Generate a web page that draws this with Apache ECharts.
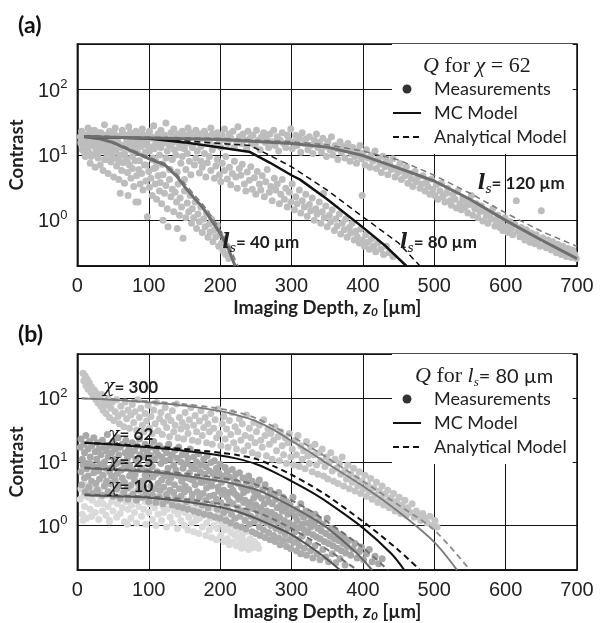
<!DOCTYPE html>
<html><head><meta charset="utf-8">
<script src="https://cdn.jsdelivr.net/npm/echarts@6/dist/echarts.min.js"></script>
<style>html,body{margin:0;padding:0;background:#fff}#c{width:603px;height:623px}</style>
</head><body><div id="c"></div>
<script>
// ---------- Panel (a): Q for chi = 62 ----------
const a40MC = [[10,19],[30,17.8],[50,15.5],[71,12.2],[100,8.8],[123,7.0],[140,4.6],[150,3.3],[162,2.3],[175,1.6],[188,1.0],[200,0.63],[211,0.38],[221,0.2]];
const a40AN = [[10,19.5],[30,18],[50,16],[71,12.8],[100,9.3],[123,7.4],[140,5.0],[150,3.7],[162,2.6],[175,1.8],[188,1.15],[200,0.72],[212,0.42],[225,0.2]];
const a80MC = [[10,19],[50,18.6],[100,17.9],[150,15.6],[200,13],[242,11.1],[270,7.6],[300,4.9],[312,4.2],[350,2.1],[400,0.78],[430,0.42],[461,0.2]];
const a80AN = [[10,19.5],[50,19],[100,18.3],[150,16.5],[200,15],[242,14],[270,9.8],[300,6.6],[350,2.9],[400,1.13],[450,0.45],[480,0.2]];
const a120MC = [[10,19],[100,18.2],[200,17.2],[300,15],[350,13.2],[400,9.8],[450,6.3],[500,4.0],[550,2.1],[600,1.0],[650,0.5],[700,0.26]];
const a120AN = [[10,19.5],[100,18.8],[200,18],[300,16],[350,14.3],[400,11.5],[450,8.4],[500,4.9],[550,2.6],[600,1.3],[650,0.68],[700,0.4]];

const a40pts = [[5,16],[7,12],[9,20],[11,9.5],[12,15],[14,18],[16,11],[18,7.5],[20,14],[21,17.5],[23,10],[25,6.5],[27,13],[29,9],[30,16],[32,7],[34,11.5],[36,5.8],[38,13.5],[40,8.5],[41,10.5],[43,5.2],[45,12],[47,7.8],[49,9.5],[51,4.6],[53,11],[55,6.8],[56,8.6],[58,4.2],[60,10],[62,5.8],[64,7.6],[66,3.7],[68,9],[70,5.4],[71,2.4],[73,7],[75,4.4],[77,6.2],[79,3.3],[81,8.2],[83,4.8],[85,1.9],[86,6],[88,3.6],[90,5.2],[92,2.9],[94,7],[96,4],[98,1.13],[100,5.6],[101,3.2],[103,4.4],[105,2.4],[107,6.2],[109,3.6],[111,2.1],[113,4.8],[115,2.8],[116,3.8],[118,1.8],[120,5],[122,2.6],[124,3.4],[126,1.5],[127,0.8],[129,4.2],[131,2.3],[133,3],[135,1.35],[137,2.7],[139,1.9],[141,3.6],[143,1.2],[144,2.2],[146,1.6],[148,0.53],[150,2.8],[152,1.1],[154,1.85],[156,1.35],[158,2.4],[160,0.9],[161,1.5],[163,1.1],[165,1.9],[167,0.75],[169,1.25],[171,0.95],[173,1.6],[175,0.65],[177,1.05],[179,0.8],[181,1.3],[183,0.55],[185,0.88],[186,0.66],[188,1.05],[190,0.47],[192,0.72],[194,0.56],[196,0.85],[198,0.4],[200,0.6],[202,0.45],[204,0.34],[206,0.52],[208,0.3],[210,0.4],[212,0.26],[82,1.9],[60,2.6],[120,1.0],[140,0.75],[106,9],[95,11],[130,6],[150,4.2],[78,13],[110,8]];
const a80pts = [[5,15],[7,21],[10,11],[12,17],[14,13],[17,24],[19,9.5],[21,15],[24,19],[26,12],[28,10],[31,16.5],[33,22],[35,13],[38,8.5],[40,18],[42,14],[45,11],[47,20],[49,9],[52,15.5],[54,12],[56,17],[59,8],[61,13],[63,21],[66,10.5],[68,14.5],[70,7.8],[73,18],[75,12],[77,9.5],[80,15],[82,20],[84,11],[87,8.2],[89,13.5],[91,17],[94,10],[96,7],[98,14],[101,11.5],[103,18],[105,8.5],[108,12.5],[110,6.5],[112,15],[115,10],[117,13],[119,7.2],[122,16],[124,9],[126,11.5],[129,6],[131,14],[133,8.5],[136,12],[138,10],[140,5.5],[143,15],[145,7.5],[147,9.5],[150,12.5],[152,6],[154,10.5],[157,8],[159,5],[161,13],[164,7],[166,9],[168,11.5],[171,5.3],[173,8],[175,6.5],[178,10.5],[180,4.6],[182,7.6],[185,9.5],[187,5.8],[189,12],[192,4.4],[194,6.8],[196,8.5],[199,5],[201,3.9],[203,7.5],[206,5.8],[208,9.5],[210,4.3],[213,6.5],[215,3.5],[217,5.2],[220,8],[222,4.6],[224,3.1],[227,6.2],[229,4.9],[231,7.2],[234,3.6],[236,2.8],[238,5.5],[241,4.1],[243,6.6],[245,3.0],[248,4.5],[250,2.5],[252,5.6],[255,3.6],[257,2.9],[259,4.8],[262,2.3],[264,3.9],[266,6],[269,2.7],[271,3.3],[273,2.0],[276,4.4],[278,2.9],[280,3.6],[283,1.8],[285,2.5],[287,4.2],[290,2.1],[292,3.1],[294,1.6],[297,2.7],[299,1.9],[301,3.6],[304,1.45],[306,2.3],[308,1.8],[311,2.9],[313,1.3],[315,2.0],[318,1.6],[320,2.5],[322,1.15],[325,1.75],[327,1.4],[329,2.2],[332,1.0],[334,1.5],[336,1.25],[339,1.9],[341,0.9],[343,1.35],[346,1.1],[348,1.65],[350,0.8],[353,1.2],[355,0.95],[357,1.45],[360,0.7],[362,1.05],[364,0.82],[367,1.25],[369,0.62],[371,0.9],[374,0.72],[376,1.05],[378,0.55],[381,0.78],[383,0.64],[385,0.9],[388,0.5],[390,0.68],[392,0.56],[395,0.45],[397,0.74],[399,0.5],[402,0.4],[404,0.6],[407,0.46],[409,0.36],[412,0.52],[415,0.4],[418,0.33],[421,0.45],[425,0.36],[429,0.3],[433,0.4],[437,0.32],[442,0.28],[399,2.4],[345,2.6]];
const a120pts = [[4,19],[6,23],[9,16],[11,20],[15,26],[17,14],[18,21],[22,18],[24,24],[27,15.5],[29,19],[30,22],[33,13.5],[36,17],[38,29],[39,20],[42,16],[45,23],[46,18],[48,13],[52,21],[53,26],[55,17],[58,15],[60,19.5],[63,24],[64,14],[67,20],[69,17],[72,27],[74,22],[75,15],[78,19],[81,13],[82,23],[85,18],[88,16],[90,21],[91,25],[94,14.5],[97,20],[98,17],[101,23],[104,19],[106,13.5],[107,28],[110,16],[113,21],[115,18],[117,24],[120,15],[122,20],[124,31],[126,17],[129,14],[131,22],[134,19],[135,25],[138,16],[141,21],[143,13],[144,18],[147,23],[150,20],[152,15],[155,26],[157,18],[158,22],[161,14],[164,19],[166,24],[168,16.5],[171,21],[173,13.5],[175,18],[178,23],[180,20],[182,15],[185,17],[187,26],[189,21],[192,14],[194,18.5],[196,22],[199,16],[201,13],[203,20],[206,25],[208,17],[211,15],[213,21],[215,18],[218,23],[220,13],[223,16],[225,27],[227,19],[230,15],[232,21],[234,17],[237,12.5],[239,23],[242,18],[244,15],[246,20],[249,14],[251,24],[254,17],[256,12],[258,19],[261,22],[263,15.5],[265,18],[268,13],[270,21],[273,16],[275,24],[277,14],[280,19],[282,11.5],[284,17],[287,22],[289,15],[292,13],[294,20],[296,17],[299,25],[301,12.5],[303,16],[306,20],[308,14],[311,18],[313,11],[315,22],[318,15],[320,17.5],[323,12],[325,19],[327,14],[330,10.5],[332,17],[335,21],[337,13],[339,15.5],[342,11],[344,18],[347,13.5],[349,9.5],[351,16],[354,12],[356,19],[358,10],[361,14],[363,12.5],[365,8.5],[368,16],[370,11],[372,13.5],[375,9],[377,12],[379,15],[382,8],[384,10.5],[386,13],[389,9.5],[391,7.5],[393,11.5],[396,14],[398,8.8],[400,10.5],[403,7],[405,12],[407,9],[410,6.5],[412,10],[414,8],[417,11.5],[419,6.2],[421,8.6],[424,7.3],[426,5.4],[428,9.6],[431,6.6],[433,8],[435,5],[438,7],[440,6],[442,8.8],[445,4.6],[447,6.3],[449,5.4],[452,7.4],[454,4.2],[456,5.8],[459,4.8],[461,6.6],[463,3.7],[466,5.2],[468,4.3],[470,3.3],[473,5.6],[475,3.9],[477,4.6],[480,3.1],[482,3.6],[484,4.8],[487,2.8],[489,3.9],[491,3.3],[494,2.5],[496,4.3],[498,3.0],[501,2.4],[503,3.5],[505,2.1],[508,2.8],[510,3.7],[512,2.3],[515,1.9],[517,2.6],[519,3.1],[522,2.0],[524,1.7],[526,2.5],[529,2.1],[531,1.55],[533,2.8],[536,1.8],[538,1.45],[540,2.2],[543,1.6],[545,1.95],[547,1.3],[550,1.75],[552,2.4],[554,1.2],[557,1.5],[559,1.8],[561,1.1],[564,1.35],[566,1.65],[568,0.98],[571,1.4],[573,1.15],[575,0.9],[578,1.25],[580,1.05],[582,1.5],[585,0.82],[587,1.0],[589,1.2],[592,0.78],[594,0.92],[596,0.7],[599,1.1],[601,0.8],[603,0.65],[606,0.95],[608,0.75],[610,0.6],[613,0.86],[615,2.0],[617,0.68],[620,0.56],[622,0.78],[624,0.62],[627,0.5],[629,0.72],[631,0.58],[634,0.46],[636,0.64],[638,0.52],[641,0.44],[643,0.6],[645,0.48],[648,0.4],[650,1.4],[652,0.54],[655,0.44],[657,0.38],[659,0.5],[662,0.41],[664,0.35],[666,0.47],[669,0.38],[671,0.32],[673,0.43],[676,0.35],[678,0.3],[680,0.4],[683,0.33],[685,0.28],[687,0.37],[690,0.31],[692,0.27],[694,0.35],[697,0.3],[699,0.26]];

// ---------- Panel (b): Q for ls = 80 um ----------
const b300MC = [[6,100],[50,95],[100,87],[150,77],[200,63],[225,54],[250,44],[275,32],[300,21.5],[325,14.5],[350,9.5],[400,4.2],[450,1.65],[500,0.55],[532,0.2]];
const b300AN = [[6,100],[50,97],[100,90],[150,81],[200,69],[225,60],[250,49],[275,36],[300,25.5],[325,17.5],[350,11.7],[400,5.0],[450,2.1],[500,0.85],[550,0.2]];
const b62MC = [[10,20],[50,18.8],[100,17],[150,15],[200,12.7],[225,11.2],[250,9.3],[275,7.0],[300,5.0],[325,3.5],[350,2.34],[400,0.92],[440,0.36],[458,0.2]];
const b62AN = [[10,20],[50,19.2],[100,17.8],[150,16],[200,14],[225,12.8],[250,11.2],[275,8.6],[300,6.3],[325,4.4],[350,2.96],[400,1.16],[450,0.41],[480,0.2]];
const b25MC = [[10,8],[50,7.6],[100,7.0],[150,6.1],[200,5.0],[225,4.4],[250,3.7],[275,2.8],[300,2.0],[325,1.4],[350,0.92],[390,0.38],[413,0.2]];
const b25AN = [[10,8.2],[50,7.8],[100,7.3],[150,6.6],[200,5.6],[225,5.1],[250,4.4],[275,3.4],[300,2.5],[325,1.75],[350,1.15],[400,0.45],[435,0.2]];
const b10MC = [[10,3.0],[50,2.9],[100,2.75],[150,2.4],[200,1.95],[225,1.65],[250,1.3],[275,0.98],[300,0.72],[340,0.36],[368,0.2]];
const b10AN = [[10,3.1],[50,3.0],[100,2.85],[150,2.6],[200,2.2],[225,1.95],[250,1.65],[275,1.25],[300,0.9],[350,0.42],[392,0.2]];

const b300pts = [[8,250],[9,190],[11,225],[12,160],[14,200],[15,140],[17,175],[19,125],[20,150],[22,108],[24,135],[26,95],[27,120],[29,85],[31,100],[33,75],[34,115],[36,65],[38,90],[40,58],[41,78],[43,100],[45,50],[47,70],[49,88],[51,45],[53,62],[55,95],[57,52],[59,40],[61,75],[63,58],[65,36],[67,88],[69,48],[71,66],[73,34],[75,55],[77,80],[79,42],[81,62],[83,32],[85,95],[87,50],[89,70],[91,38],[93,30],[95,58],[97,44],[99,78],[101,34],[103,52],[105,28],[107,66],[109,40],[111,86],[113,31],[115,48],[117,60],[119,27],[121,42],[123,72],[125,35],[127,52],[129,25],[131,45],[133,64],[135,30],[137,38],[139,82],[141,24],[143,50],[145,33],[147,42],[149,23],[151,60],[153,36],[155,28],[157,46],[159,72],[161,22],[163,38],[165,54],[167,30],[169,21],[171,44],[173,64],[175,26],[177,35],[179,50],[181,20],[183,40],[185,30],[187,58],[189,19],[191,34],[193,46],[195,24],[197,68],[199,28],[201,18],[203,40],[205,52],[207,23],[209,33],[211,17],[213,45],[215,27],[217,60],[219,20],[221,36],[223,16],[225,30],[227,48],[229,22],[231,40],[233,15],[235,26],[237,55],[239,18],[241,34],[243,24],[245,14],[247,42],[249,20],[251,30],[253,13],[255,38],[257,22],[259,17],[261,46],[263,26],[265,12.5],[267,33],[269,19],[271,28],[273,11],[275,22],[277,36],[279,15],[281,25],[283,10.5],[285,30],[287,18],[289,13],[291,24],[293,9.5],[295,20],[297,28],[299,12],[301,16],[303,9],[305,22],[307,13],[309,26],[311,8.5],[313,18],[315,11],[317,15],[319,7.8],[321,21],[323,12.5],[325,9.5],[327,17],[329,7],[331,13],[333,19],[335,9],[337,6.4],[339,14],[341,10.5],[343,16],[345,6],[347,8.5],[349,12],[351,5.4],[353,10],[355,14],[357,7.2],[359,5],[361,11],[363,8],[365,4.6],[367,9.5],[369,6.4],[371,12],[373,4.2],[375,7.4],[377,5.4],[379,9],[381,3.8],[383,6.4],[385,4.8],[387,8],[389,3.5],[391,5.6],[393,4.2],[395,7],[397,3.2],[399,5],[401,3.8],[403,6.2],[405,2.9],[407,4.4],[409,3.4],[411,5.5],[413,2.6],[415,3.9],[417,3.0],[419,4.8],[421,2.3],[423,3.5],[425,2.7],[427,4.2],[429,2.1],[431,3.1],[433,2.4],[435,3.6],[437,1.9],[439,2.7],[441,2.2],[443,3.2],[445,1.7],[447,2.4],[449,1.95],[451,2.8],[453,1.55],[455,2.1],[457,1.75],[459,2.5],[461,1.45],[463,1.9],[466,1.6],[469,2.2],[472,1.35],[475,1.7],[478,1.45],[481,1.2],[484,1.55],[487,1.3],[490,1.1],[494,1.4],[497,1.0],[501,1.2],[504,0.95]];
const b62pts = [[4,17],[5,23],[7,11],[9,19],[10,14],[12,26],[13,9.5],[15,16],[17,21],[18,12],[20,18],[22,8.5],[23,24],[25,14.5],[27,11],[28,20],[30,16],[32,9],[33,13],[35,22],[37,17],[38,10],[40,15],[42,27],[43,12],[45,18],[47,8],[48,14],[50,21],[52,11],[53,16],[55,9.5],[57,24],[58,13],[60,17],[62,10],[63,19],[65,8],[67,14],[68,22],[70,11.5],[72,16],[73,9],[75,13],[77,20],[78,7.5],[80,15],[82,11],[83,18],[85,9.5],[87,23],[88,13],[90,8],[92,16],[93,12],[95,19],[97,7.2],[98,14],[100,10],[102,17],[103,12.5],[105,8.5],[107,21],[108,11],[110,15],[112,7],[113,13],[115,18],[117,9.5],[118,12],[120,6.6],[122,16],[123,10.5],[125,14],[127,8],[128,19],[130,11],[132,6.2],[133,13],[135,9],[137,15.5],[138,7.5],[140,11.5],[142,17],[143,6],[145,10],[147,13],[148,8],[150,5.6],[152,14],[153,9.5],[155,11.5],[157,6.8],[158,16],[160,8.5],[162,5.2],[163,12],[165,7.8],[167,10],[168,5.8],[170,13.5],[172,7],[173,9],[175,4.8],[177,11],[178,6.4],[180,8.4],[182,12.5],[183,5],[185,7.2],[187,9.8],[188,4.4],[190,6.6],[192,10.5],[193,5.4],[195,8],[197,4],[198,6.8],[200,9.2],[202,4.8],[203,6],[205,3.6],[207,8.2],[208,5.4],[210,7],[212,3.3],[213,5.8],[215,4.3],[217,7.6],[218,3.6],[220,5.2],[222,6.4],[223,3],[225,4.6],[227,6.8],[228,2.8],[230,4],[232,5.6],[233,3.3],[235,2.5],[237,4.8],[238,3.6],[240,6],[242,2.3],[243,3.9],[245,5],[247,2.7],[248,3.4],[250,2.1],[252,4.4],[253,3],[255,5.2],[257,1.9],[258,2.7],[260,3.7],[262,2.2],[263,4.4],[265,1.7],[267,2.9],[268,2.4],[270,3.6],[272,1.6],[273,2.2],[275,3.1],[277,1.45],[278,2.6],[280,1.9],[282,3.3],[283,1.35],[285,2.1],[287,1.7],[288,2.8],[290,1.2],[292,1.9],[293,2.4],[295,1.5],[297,1.1],[298,2.1],[300,1.65],[302,2.8],[303,1.0],[305,1.4],[307,1.8],[308,1.2],[310,0.92],[312,1.55],[313,2.2],[315,1.05],[317,1.35],[318,0.85],[320,1.7],[322,1.1],[323,0.78],[325,1.45],[327,0.95],[328,1.2],[330,0.72],[332,1.05],[333,1.5],[335,0.66],[337,0.9],[338,1.2],[340,0.62],[342,0.82],[344,1.05],[346,0.56],[348,0.75],[350,1.3],[352,0.52],[354,0.68],[356,0.9],[358,0.48],[360,0.62],[362,0.8],[364,0.44],[366,0.58],[368,0.72],[370,0.4],[372,0.52],[374,0.65],[376,0.37],[378,0.47],[380,0.58],[383,0.34],[386,0.43],[389,0.52],[392,0.31],[395,0.39],[398,0.46],[401,0.29],[405,0.36],[409,0.42],[413,0.27],[417,0.33],[422,0.25],[427,0.3]];
const b25pts = [[5,7],[6,4.4],[8,9],[10,5.6],[11,3.4],[13,7.8],[15,6],[16,4],[18,9.5],[20,5],[21,3.2],[23,6.8],[25,8.4],[26,4.6],[28,3.6],[30,7.2],[31,5.4],[33,9.2],[35,3],[36,6.2],[38,4.2],[40,8],[41,5],[43,3.4],[45,7],[46,4.6],[48,6],[50,2.9],[51,8.8],[53,5.2],[55,3.8],[56,6.6],[58,4.4],[60,2.7],[61,7.4],[63,5.6],[65,3.3],[66,4.8],[68,8.2],[70,3.9],[71,2.6],[73,6],[75,4.3],[76,7],[78,3.1],[80,5.2],[81,6.4],[83,2.5],[85,4.6],[86,3.6],[88,7.6],[90,5],[91,2.8],[93,4],[95,6.2],[96,3.3],[98,5.4],[100,2.4],[101,7],[103,4.2],[105,3],[106,5.8],[108,3.8],[110,2.3],[111,6.6],[113,4.6],[115,2.8],[116,3.6],[118,5.2],[120,2.2],[121,4],[123,6],[125,3.1],[126,2.5],[128,4.8],[130,3.6],[131,5.6],[133,2.1],[135,3.3],[136,4.4],[138,2.7],[140,6.2],[141,2],[143,3.8],[145,2.9],[146,5],[148,1.9],[150,3.4],[151,4.2],[153,2.4],[155,1.8],[156,3.7],[158,5.4],[160,2.6],[161,3.1],[163,1.7],[165,4.4],[166,2.3],[168,3.4],[170,1.6],[171,2.8],[173,4.8],[175,2.1],[176,3.2],[178,1.5],[180,2.5],[181,3.9],[183,1.9],[185,2.9],[186,1.45],[188,4.2],[190,2.2],[191,3],[193,1.35],[195,2.6],[196,1.8],[198,3.5],[200,1.3],[201,2.3],[203,3.1],[205,1.6],[206,2.0],[208,1.2],[210,2.8],[211,1.75],[213,2.4],[215,1.1],[216,1.5],[218,2.2],[220,3.2],[221,1.3],[223,1.0],[225,1.9],[226,2.6],[228,1.4],[230,0.95],[231,1.7],[233,2.3],[235,1.2],[236,0.88],[238,1.55],[240,2.0],[241,1.05],[243,1.4],[245,0.8],[246,1.85],[248,1.15],[250,0.75],[251,1.3],[253,1.65],[255,0.95],[256,0.7],[258,1.2],[260,1.5],[261,0.85],[263,0.65],[265,1.1],[266,1.35],[268,0.78],[270,0.6],[271,1.0],[273,1.25],[275,0.7],[277,0.56],[278,0.9],[280,1.15],[282,0.64],[284,0.5],[285,0.82],[287,1.0],[289,0.58],[291,0.74],[293,0.47],[295,0.9],[297,0.6],[299,0.43],[301,0.7],[303,0.54],[305,0.8],[307,0.4],[309,0.6],[311,0.48],[313,0.36],[315,0.68],[318,0.44],[321,0.34],[324,0.55],[327,0.4],[330,0.31],[333,0.48],[336,0.36],[340,0.29],[344,0.42],[348,0.32],[352,0.27],[357,0.36],[362,0.26],[368,0.3],[375,0.24]];
const b10pts = [[4,2.6],[5,3.8],[7,1.5],[9,3],[10,2],[12,4.3],[13,1.3],[15,2.8],[17,3.5],[18,1.8],[20,1.4],[21,2.5],[23,4],[25,1.6],[26,3.1],[28,2.2],[30,1.25],[31,3.7],[33,2.7],[35,1.7],[36,2.2],[38,4.4],[40,1.45],[41,3],[43,2],[45,1.2],[46,3.4],[48,2.4],[50,1.7],[51,4],[53,2.9],[55,1.35],[56,2.2],[58,3.6],[60,1.55],[61,2.6],[63,1.9],[65,3.2],[66,1.15],[68,2.4],[70,3.9],[71,1.8],[73,2.9],[75,1.3],[76,2.1],[78,3.4],[80,1.6],[81,2.6],[83,1.1],[85,3.7],[86,2],[88,2.8],[90,1.4],[91,3.2],[93,1.8],[95,2.4],[96,1.05],[98,3],[100,1.6],[101,2.2],[103,3.5],[105,1.25],[106,2.6],[108,1.9],[110,1.0],[111,2.9],[113,1.5],[115,2.3],[116,3.2],[118,1.2],[120,2.0],[121,1.6],[123,2.7],[125,0.95],[126,1.8],[128,2.4],[130,1.35],[131,3],[133,1.1],[135,2.1],[136,1.7],[138,2.6],[140,0.9],[141,1.5],[143,2.2],[145,1.2],[146,1.8],[148,2.8],[150,1.0],[151,1.6],[153,2.3],[155,0.85],[156,1.35],[158,1.9],[160,1.1],[161,2.5],[163,0.8],[165,1.5],[166,1.2],[168,2.0],[170,0.75],[171,1.3],[173,1.75],[175,0.95],[176,1.45],[178,2.2],[180,0.7],[181,1.1],[183,1.6],[185,0.85],[186,1.3],[188,0.65],[190,1.9],[191,1.0],[193,1.4],[195,0.6],[196,0.9],[198,1.2],[200,1.6],[201,0.7],[203,1.05],[205,0.56],[206,0.85],[208,1.3],[210,0.62],[211,0.95],[213,0.5],[215,0.78],[216,1.15],[218,0.55],[220,0.72],[221,0.95],[223,0.48],[225,0.65],[226,0.85],[228,0.52],[230,0.44],[231,0.7],[233,0.58],[235,0.46],[236,0.8],[238,0.55],[240,0.42],[242,0.62],[244,0.5],[246,0.45],[248,0.56],[250,0.47],[252,0.5],[254,0.44],[20,1.4],[45,1.15],[8,1.2],[70,1.05]];

// ---------- annotations (data coordinates) ----------
const aLabels = [
  {at:[203,0.45], text:'{l|l}{s|s}{t|= 40 µm}'},
  {at:[452,0.45], text:'{l|l}{s|s}{t|= 80 µm}'},
  {at:[561,3.6],  text:'{l|l}{s|s}{t|= 120 µm}'}
];
const bLabels = [
  {at:[36,149],  text:'{c|χ}{t|= 300}'},
  {at:[43,26.8], text:'{c|χ}{t|= 62}'},
  {at:[43,10.1], text:'{c|χ}{t|= 25}'},
  {at:[43,4.05], text:'{c|χ}{t|= 10}'}
];
const legendNames = ['Measurements','MC Model','Analytical Model'];

const SANS = 'Lato, "Open Sans", sans-serif';
const SERIF = '"DejaVu Serif", "Liberation Serif", serif';
const TSERIF = '"Liberation Serif", "DejaVu Serif", serif';
const TICK = '"Liberation Sans", Arial, sans-serif';
const INK = '#1e1e1e';

const annRich = {
  l:{fontFamily:SERIF, fontStyle:'italic', fontWeight:'bold', fontSize:20, color:INK},
  s:{fontFamily:SERIF, fontStyle:'italic', fontSize:12, color:INK, padding:[12,0,0,0]},
  t:{fontFamily:SANS, fontWeight:'bold', fontSize:17, color:INK},
  c:{fontFamily:SERIF, fontStyle:'italic', fontSize:19, color:INK}
};

function powLabel(v){
  const e = Math.log10(v), r = Math.round(e);
  if (Math.abs(e - r) > 1e-6) return '';
  return '{b|10}{s|' + r + '}';
}

function xAx(gi){
  return {type:'value', gridIndex:gi, min:0, max:700, interval:100,
    name:'Imaging Depth, {i|z}{sub|0} [µm]', nameLocation:'middle', nameGap:32,
    nameTextStyle:{fontFamily:SANS, fontWeight:'bold', fontSize:18.5, color:INK,
      rich:{i:{fontFamily:SANS, fontWeight:'bold', fontStyle:'italic', fontSize:18.5, color:INK},
            sub:{fontFamily:SANS, fontWeight:'bold', fontStyle:'italic', fontSize:12, color:INK, padding:[8,0,0,0]}}},
    axisLine:{show:true, lineStyle:{color:'#111', width:1.5}}, axisTick:{show:false},
    splitLine:{show:true, lineStyle:{color:'#111', width:1}},
    axisLabel:{fontFamily:TICK, fontSize:20, color:'#222', margin:10}};
}
function yAx(gi){
  return {type:'log', logBase:10, gridIndex:gi, min:0.2, max:500,
    name:'Contrast', nameLocation:'middle', nameGap:43,
    nameTextStyle:{fontFamily:SANS, fontWeight:'bold', fontSize:18.5, color:INK},
    axisLine:{show:true, lineStyle:{color:'#111', width:1.5}}, axisTick:{show:false},
    splitLine:{show:true, lineStyle:{color:'#111', width:1}},
    axisLabel:{formatter:powLabel, margin:10,
      rich:{b:{fontFamily:TICK, fontSize:20, color:'#222', verticalAlign:'bottom'},
            s:{fontFamily:TICK, fontSize:13, color:'#222', verticalAlign:'bottom', padding:[0,0,10,0]}}}};
}
function line(data, gi, color, width, dashed, labels, smooth){
  const s = {type:'line', data:data, xAxisIndex:gi, yAxisIndex:gi, symbol:'none', silent:true, z:3,
    smooth: smooth ? 0.3 : false,
    lineStyle:{color:color, width:width, type: dashed ? [6,4] : 'solid'}, itemStyle:{color:color}};
  if (labels) {
    s.markPoint = {symbol:'circle', symbolSize:0, silent:true,
      data: labels.map(o => ({coord:o.at, label:{show:true, position:'right', distance:0, formatter:o.text, rich:annRich}}))};
  }
  return s;
}
function pts(data, gi, color){
  return {type:'scatter', data:data, xAxisIndex:gi, yAxisIndex:gi, symbolSize:7, silent:true, z:2,
    itemStyle:{color:color, opacity:1}};
}
function legendCfg(top){
  return {left:392, top:top, orient:'vertical', backgroundColor:'#fff', padding:[36,6,8,0],
    itemWidth:28, itemHeight:9, itemGap:6, selectedMode:false, z:4,
    textStyle:{fontFamily:SANS, fontSize:18, color:'#222', lineHeight:18, padding:[0,0,0,8]},
    data:[{name:legendNames[0], icon:'circle', itemStyle:{color:'#000'}},
          {name:legendNames[1], itemStyle:{opacity:0}},
          {name:legendNames[2], itemStyle:{opacity:0}}]};
}

const serifRich = {
  q:{fontFamily:TSERIF, fontStyle:'italic', fontWeight:'normal', fontSize:22, color:INK},
  r:{fontFamily:TSERIF, fontWeight:'normal', fontSize:22, color:INK},
  l:{fontFamily:TSERIF, fontStyle:'italic', fontWeight:'normal', fontSize:22, color:INK},
  s:{fontFamily:TSERIF, fontStyle:'italic', fontWeight:'normal', fontSize:13, color:INK, padding:[12,0,0,0]},
  t:{fontFamily:SANS, fontWeight:'normal', fontSize:20, color:INK}
};

const option = {
  animation:false,
  backgroundColor:'#fff',
  title:[
    {text:'(a)', left:13, top:9, textStyle:{fontFamily:SANS, fontWeight:'bold', fontSize:23, color:'#111'}},
    {text:'(b)', left:13, top:318, textStyle:{fontFamily:SANS, fontWeight:'bold', fontSize:23, color:'#111'}},
    {text:'{q|Q} {r|for} {q|χ} {r|= 62}', left:418, top:50, z:6, textStyle:{fontWeight:'normal', fontSize:22, fontFamily:TSERIF, rich:serifRich}},
    {text:'{q|Q} {r|for} {l|l}{s|s}{t|= 80 µm}', left:410, top:359, z:6, textStyle:{fontWeight:'normal', fontSize:22, fontFamily:TSERIF, rich:serifRich}}
  ],
  legend:[legendCfg(44), legendCfg(354)],
  grid:[
    {left:77, right:26, top:44, height:222, show:true, borderColor:'#111', borderWidth:1.5, backgroundColor:'#fff'},
    {left:77, right:26, top:354, height:223, show:true, borderColor:'#111', borderWidth:1.5, backgroundColor:'#fff'}
  ],
  xAxis:[xAx(0), xAx(1)],
  yAxis:[yAx(0), yAx(1)],
  series:[
    pts(a40pts, 0, '#bdbdbd'), pts(a80pts, 0, '#bdbdbd'), pts(a120pts, 0, '#bdbdbd'),
    line(a40AN, 0, '#808080', 1.5, true), line(a40MC, 0, '#6e6e6e', 3, false, [aLabels[0]]),
    line(a80AN, 0, '#111', 1.5, true), line(a80MC, 0, '#111', 2.5, false, [aLabels[1]]),
    line(a120AN, 0, '#7a7a7a', 1.5, true), line(a120MC, 0, '#6e6e6e', 3, false, [aLabels[2]]),

    pts(b300pts, 1, '#c4c4c4'), pts(b10pts, 1, '#dadada'), pts(b25pts, 1, '#acacac'), pts(b62pts, 1, '#a8a8a8'),
    line(b300AN, 1, '#8a8a8a', 1.8, true, null, true), line(b300MC, 1, '#7a7a7a', 1.8, false, [bLabels[0]], true),
    line(b62AN, 1, '#111', 2, true, null, true), line(b62MC, 1, '#111', 2, false, [bLabels[1]], true),
    line(b25AN, 1, '#707070', 2, true, null, true), line(b25MC, 1, '#666', 2, false, [bLabels[2]], true),
    line(b10AN, 1, '#707070', 2, true, null, true), line(b10MC, 1, '#555', 2, false, [bLabels[3]], true),

    {type:'scatter', name:legendNames[0], data:[], xAxisIndex:0, yAxisIndex:0, itemStyle:{color:'#000'}},
    {type:'line', name:legendNames[1], data:[], xAxisIndex:0, yAxisIndex:0, symbol:'none', lineStyle:{color:'#111', width:3}, itemStyle:{color:'#111'}},
    {type:'line', name:legendNames[2], data:[], xAxisIndex:0, yAxisIndex:0, symbol:'none', lineStyle:{color:'#111', width:1.8, type:[6,4]}, itemStyle:{color:'#111'}}
  ]
};
echarts.init(document.getElementById('c')).setOption(option);
</script>
</body></html>
